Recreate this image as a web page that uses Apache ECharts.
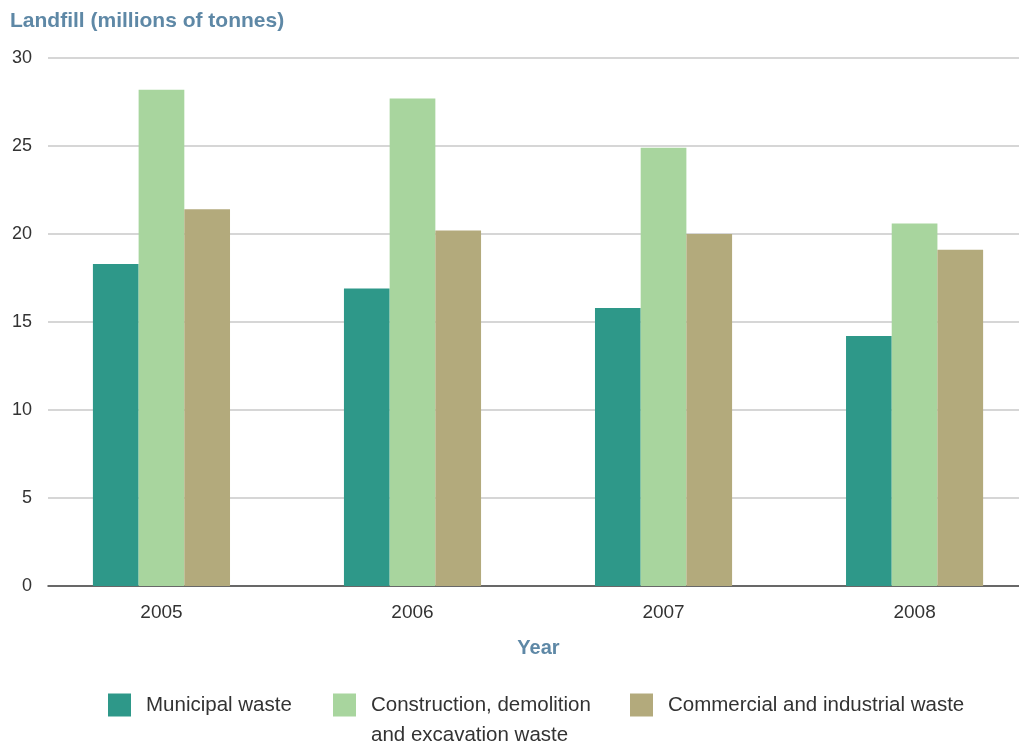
<!DOCTYPE html>
<html>
<head>
<meta charset="utf-8">
<script src="https://cdn.jsdelivr.net/npm/echarts@6/dist/echarts.min.js"></script>
<style>html,body{margin:0;padding:0;background:#fff}#c{width:1019px;height:744px}</style>
</head>
<body>
<div id="c"></div>
<script>
const years = ['2005', '2006', '2007', '2008'];
const seriesNames = ['Municipal waste', 'Construction, demolition\nand excavation waste', 'Commercial and industrial waste'];
const municipal = [18.3, 16.9, 15.8, 14.2];
const construction = [28.2, 27.7, 24.9, 20.6];
const commercial = [21.4, 20.2, 20.0, 19.1];
const colors = ['#2e9889', '#a8d59e', '#b3aa7c'];

const FONT = 'Liberation Sans';
const yearIdx = years.map(function (_, i) { return i; });
function pairs(vals) { return vals.map(function (v, i) { return [yearIdx[i], v]; }); }

const chart = echarts.init(document.getElementById('c'));
// square marker in the top 23px of a taller item box, so two-line text starts level with it
const TALL_ICON = 'path://M0,0H23V23H0Z M0,53L0.001,53L0,53.001Z';
function legendFor(i, left, top, tall) {
  return {
    data: [seriesNames[i]], left: left, top: top, padding: 0, orient: 'horizontal',
    itemWidth: 23, itemHeight: tall ? 53 : 23, icon: tall ? TALL_ICON : 'rect', selectedMode: false,
    textStyle: { fontFamily: FONT, fontSize: 20.5, color: '#333', lineHeight: 30, padding: [0, 0, 0, 10] }
  };
}
chart.setOption({
  animation: false,
  title: {
    text: 'Landfill (millions of tonnes)', left: 10, top: 11, padding: 0,
    textStyle: { fontFamily: FONT, fontSize: 21, fontWeight: 'bold', color: '#5e88a6' }
  },
  legend: [
    legendFor(0, 108, 690, false),
    legendFor(1, 333, 690, true),
    legendFor(2, 630, 690, false)
  ],
  grid: { left: 48, right: 0, top: 58, bottom: 158 },
  xAxis: {
    type: 'value', min: -0.452, max: 3.416,
    axisLine: { onZero: false, lineStyle: { color: '#444', width: 1.5 } },
    axisTick: { show: false }, splitLine: { show: false },
    axisLabel: { customValues: yearIdx, formatter: function (v) { return years[v]; },
      fontFamily: FONT, fontSize: 19, color: '#333', margin: 17 },
    name: 'Year', nameLocation: 'middle', nameGap: 62,
    nameTextStyle: { fontFamily: FONT, fontSize: 20, fontWeight: 'bold', color: '#5e88a6', verticalAlign: 'middle', padding: [0, 0, 0, 10] }
  },
  yAxis: {
    type: 'value', min: 0, max: 30, interval: 5,
    axisLine: { show: false }, axisTick: { show: false },
    axisLabel: { fontFamily: FONT, fontSize: 18, color: '#333', margin: 16 },
    splitLine: { lineStyle: { color: '#c8c8c8', width: 1.5 } }
  },
  series: [
    { name: seriesNames[0], type: 'bar', data: pairs(municipal), barWidth: 45.7, barGap: '0%', itemStyle: { color: colors[0] } },
    { name: seriesNames[1], type: 'bar', data: pairs(construction), barWidth: 45.7, barGap: '0%', itemStyle: { color: colors[1] } },
    { name: seriesNames[2], type: 'bar', data: pairs(commercial), barWidth: 45.7, barGap: '0%', itemStyle: { color: colors[2] } }
  ]
});
</script>
</body>
</html>
